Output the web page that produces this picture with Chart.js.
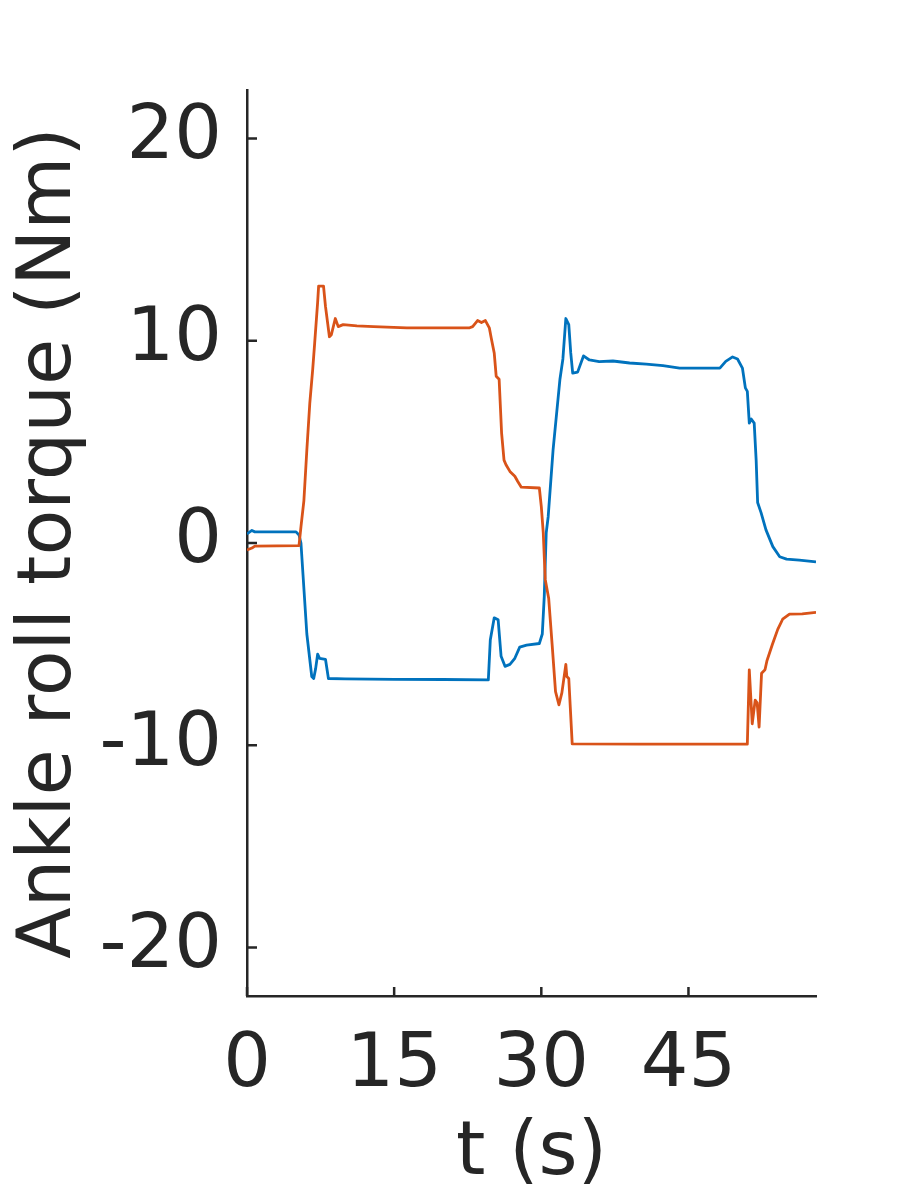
<!DOCTYPE html>
<html>
<head>
<meta charset="utf-8">
<script src="https://cdn.jsdelivr.net/npm/chart.js@4/dist/chart.umd.min.js"></script>
<style>
  html, body { margin: 0; padding: 0; background: #fff; }
  canvas { display: block; }
</style>
</head>
<body>
<canvas id="chart" width="900" height="1200"></canvas>
<script>
// time (s) and torque (Nm)
const blueT = [0, 0.5, 0.8, 5.0, 5.3, 5.5, 6.1, 6.6, 6.8, 7.0, 7.2, 7.4, 8.0, 8.3, 10, 15, 20, 24.6,
  24.8, 25.2, 25.6, 25.9, 26.3, 26.8, 27.3, 27.8, 28.5, 29.8, 30.1, 30.3, 30.5, 30.7, 31.2, 31.9,
  32.2, 32.5, 32.8, 33.0, 33.2, 33.7, 34.3, 34.9, 35.9, 37.3, 39.0, 40.7, 42.4, 44.1, 48.2, 48.8,
  49.5, 50.0, 50.5, 50.8, 51.0, 51.2, 51.4, 51.7, 51.9, 52.05, 52.4, 52.9, 53.6, 54.3, 55.0, 56.3, 58];
const blueV = [0.45, 0.62, 0.55, 0.55, 0.4, 0.0, -4.5, -6.6, -6.7, -6.2, -5.5, -5.7, -5.75, -6.7, -6.72, -6.74, -6.75, -6.77,
  -4.8, -3.7, -3.8, -5.6, -6.1, -6.0, -5.7, -5.15, -5.05, -4.97, -4.5, -2.65, 0.5, 1.3, 4.6, 8.1,
  9.1, 11.1, 10.8, 9.4, 8.4, 8.45, 9.25, 9.05, 8.97, 9.0, 8.9, 8.85, 8.77, 8.65, 8.65, 8.98,
  9.2, 9.1, 8.65, 7.67, 7.5, 5.93, 6.13, 5.93, 4.1, 2.0, 1.5, 0.65, -0.18, -0.68, -0.8, -0.85, -0.93];

const orangeT = [0, 0.5, 0.8, 5.3, 5.5, 5.8, 6.1, 6.4, 6.7, 6.9, 7.2, 7.3, 7.8, 8.0, 8.4, 8.6, 9.0, 9.3, 9.8,
  11.2, 12.9, 16.3, 22.7, 23.0, 23.5, 23.9, 24.3, 24.7, 24.9, 25.2, 25.4, 25.7, 25.95, 26.2, 26.4, 26.8,
  27.3, 27.6, 27.96, 29.8, 30.0, 30.2, 30.4, 30.75, 31.1, 31.45, 31.8, 32.1, 32.5, 32.6, 32.8, 33.15,
  40, 51.0, 51.2, 51.5, 51.8, 52.0, 52.2, 52.45, 52.8, 53.0, 53.55, 54.1, 54.6, 55.3, 56.6, 58];
const orangeV = [-0.35, -0.25, -0.15, -0.13, 0.8, 2.1, 4.6, 6.9, 8.6, 9.9, 11.9, 12.7, 12.7, 11.7, 10.2, 10.3, 11.1, 10.7, 10.8,
  10.74, 10.7, 10.64, 10.64, 10.7, 11.0, 10.9, 11.0, 10.64, 10.13, 9.4, 8.25, 8.1, 5.45, 4.1, 3.87, 3.54,
  3.3, 3.04, 2.76, 2.72, 1.8, 0.5, -1.8, -2.73, -5.0, -7.35, -8.0, -7.4, -6.0, -6.6, -6.7, -9.93,
  -9.95, -9.95, -6.27, -8.94, -7.77, -7.9, -9.1, -6.44, -6.27, -5.82, -5.02, -4.27, -3.77, -3.52, -3.5, -3.43];

const xTicks = [0, 15, 30, 45];
const yTicks = [-20, -10, 0, 10, 20];

const axisColor = '#262626';
const fontFamily = '"DejaVu Sans", sans-serif';

const toPoints = (ts, vs) => ts.map((t, i) => ({ x: t, y: vs[i] }));

// MATLAB-style inward tick marks
const innerTicks = {
  id: 'innerTicks',
  afterDraw(chart) {
    const { ctx, chartArea, scales } = chart;
    ctx.save();
    ctx.strokeStyle = axisColor;
    ctx.lineWidth = 2.5;
    ctx.beginPath();
    scales.x.ticks.forEach(t => {
      const px = scales.x.getPixelForValue(t.value);
      ctx.moveTo(px, chartArea.bottom);
      ctx.lineTo(px, chartArea.bottom - 9);
    });
    scales.y.ticks.forEach(t => {
      const py = scales.y.getPixelForValue(t.value);
      ctx.moveTo(chartArea.left, py);
      ctx.lineTo(chartArea.left + 10, py);
    });
    ctx.stroke();
    ctx.restore();
  }
};

new Chart(document.getElementById('chart'), {
  type: 'line',
  data: {
    datasets: [
      {
        data: toPoints(blueT, blueV),
        borderColor: '#0072BD',
        borderWidth: 2.8,
        pointRadius: 0,
        tension: 0,
        borderJoinStyle: 'round',
        order: 1
      },
      {
        data: toPoints(orangeT, orangeV),
        borderColor: '#D95319',
        borderWidth: 2.8,
        pointRadius: 0,
        tension: 0,
        borderJoinStyle: 'round',
        order: 0
      }
    ]
  },
  options: {
    responsive: false,
    animation: false,
    devicePixelRatio: 1,
    layout: { padding: { top: 90, right: 84, left: 0, bottom: 0 } },
    plugins: { legend: { display: false }, tooltip: { enabled: false } },
    scales: {
      x: {
        type: 'linear',
        min: 0,
        max: 58,
        afterBuildTicks: s => { s.ticks = xTicks.map(v => ({ value: v })); },
        afterFit: s => { s.height = 204; },
        grid: { display: true, drawOnChartArea: false, drawTicks: false },
        border: { color: axisColor, width: 2.5 },
        ticks: { color: axisColor, padding: 26, font: { family: fontFamily, size: 75 } },
        title: {
          display: true,
          text: 't (s)',
          color: axisColor,
          padding: { top: 0, bottom: 0 },
          font: { family: fontFamily, size: 75 }
        }
      },
      y: {
        type: 'linear',
        min: -22.4,
        max: 22.4,
        afterBuildTicks: s => { s.ticks = yTicks.map(v => ({ value: v })); },
        afterFit: s => { s.width = 247; },
        grid: { display: true, drawOnChartArea: false, drawTicks: false },
        border: { color: axisColor, width: 2.5 },
        ticks: { color: axisColor, padding: 25, font: { family: fontFamily, size: 75 } },
        title: {
          display: true,
          text: 'Ankle roll torque (Nm)',
          color: axisColor,
          padding: { top: 6, bottom: 0 },
          font: { family: fontFamily, size: 75 }
        }
      }
    }
  },
  plugins: [innerTicks]
});
</script>
</body>
</html>
